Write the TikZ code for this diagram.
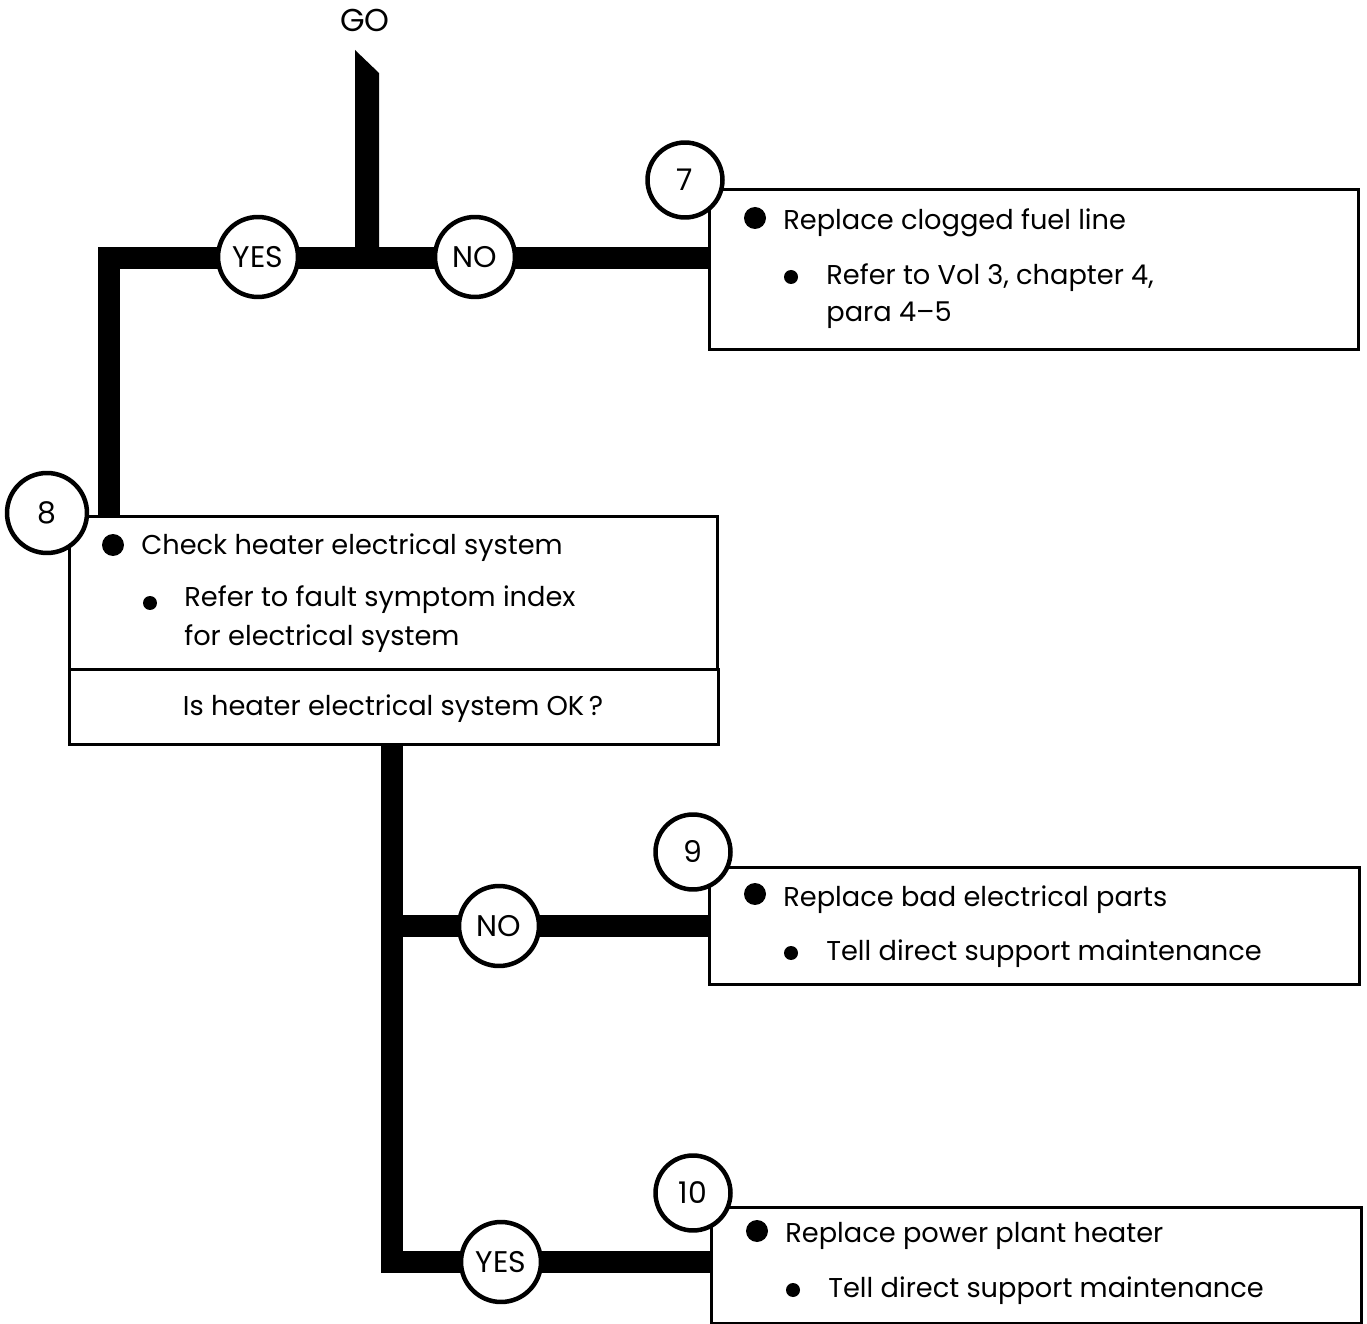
\documentclass[tikz,border=0pt]{standalone}
\usepackage{fontspec}
\setmainfont{Poppins}
\usetikzlibrary{positioning}

\tikzset{
  bar/.style={line width=0.45cm, line join=miter},
  ring/.style={circle, draw, line width=0.09cm, fill=white, inner sep=0pt,
    minimum size=1.6cm, font=\fontsize{17}{20}\selectfont},
  stepno/.style={ring, minimum size=1.5cm},
  actbox/.style={draw, line width=0.06cm, fill=white, anchor=north west,
    inner sep=0pt},
  line/.style={anchor=base west, inner sep=0pt, font=\fontsize{15.5}{18}\selectfont},
}

\begin{document}
\begin{tikzpicture}[x=0.02cm, y=-0.02cm]
  \useasboundingbox (0,0) rectangle (1367,1324);

  % boxes
  \node[actbox, minimum width=12.98cm, minimum height=3.2cm] (box7) at (708,188) {};
  \node[actbox, minimum width=12.96cm, minimum height=3.06cm] (box8) at (68,515) {};
  \node[actbox, minimum width=12.98cm, minimum height=1.5cm] (box8q) at (68,668) {};
  \node[actbox, minimum width=13cm, minimum height=2.34cm] (box9) at (708,866) {};
  \node[actbox, minimum width=13cm, minimum height=2.32cm] (box10) at (710,1206) {};

  % thick flow lines
  \coordinate (tee) at (367,258);
  \coordinate (lcorner) at (109,258);
  \coordinate (fork) at (392,926);
  \coordinate (bend) at (392,1262);
  \node[above, inner sep=0pt, font=\fontsize{18}{20}\selectfont] (go) at (365,32) {GO};
  \fill (355,50) -- (379,73) -- (379,258) -- (355,258) -- cycle;
  \draw[bar] (box8.north -| lcorner) -- (lcorner) -- (box7.west |- tee);
  \draw[bar] (box8q.south -| bend) -- (bend) -- (box10.west |- bend);
  \draw[bar] (fork) -- (box9.west |- fork);

  % answer circles
  \node[ring] (yes1) at (258,257) {YES};
  \node[ring] (no1) at (475,257) {NO};
  \node[ring] (no2) at (499,926) {NO};
  \node[ring] (yes2) at (501,1262) {YES};

  % step numbers
  \node[stepno] (n7) at (685,180) {7};
  \node[stepno, minimum size=1.6cm] (n8) at (47,513) {8};
  \node[stepno] (n9) at (693,852) {9};
  \node[stepno] (n10) at (693,1193) {10};

  % step 7
  \fill (755,218) circle (0.22cm);
  \node[line] (t7a) at (783,230) {Replace clogged fuel line};
  \fill (791,277) circle (0.14cm);
  \node[line] (t7b) at (826,285) {Refer to Vol 3, chapter 4,};
  \node[line] (t7c) at (826,322) {para 4--5};

  % step 8
  \fill (113,545) circle (0.22cm);
  \node[line] (t8a) at (141,555) {Check heater electrical system};
  \fill (150,603) circle (0.14cm);
  \node[line] (t8b) at (184,607) {Refer to fault symptom index};
  \node[line] (t8c) at (184,645) {for electrical system};
  \node[anchor=base, inner sep=0pt, font=\fontsize{15.5}{18}\selectfont] (q8) at (393,715) {Is heater electrical system OK\,?};

  % step 9
  \fill (755,894) circle (0.22cm);
  \node[line] (t9a) at (783,906) {Replace bad electrical parts};
  \fill (791,953) circle (0.14cm);
  \node[line] (t9b) at (826,960) {Tell direct support maintenance};

  % step 10
  \fill (757,1231) circle (0.22cm);
  \node[line] (t10a) at (785,1242) {Replace power plant heater};
  \fill (793,1290) circle (0.14cm);
  \node[line] (t10b) at (828,1297) {Tell direct support maintenance};
\end{tikzpicture}
\end{document}
